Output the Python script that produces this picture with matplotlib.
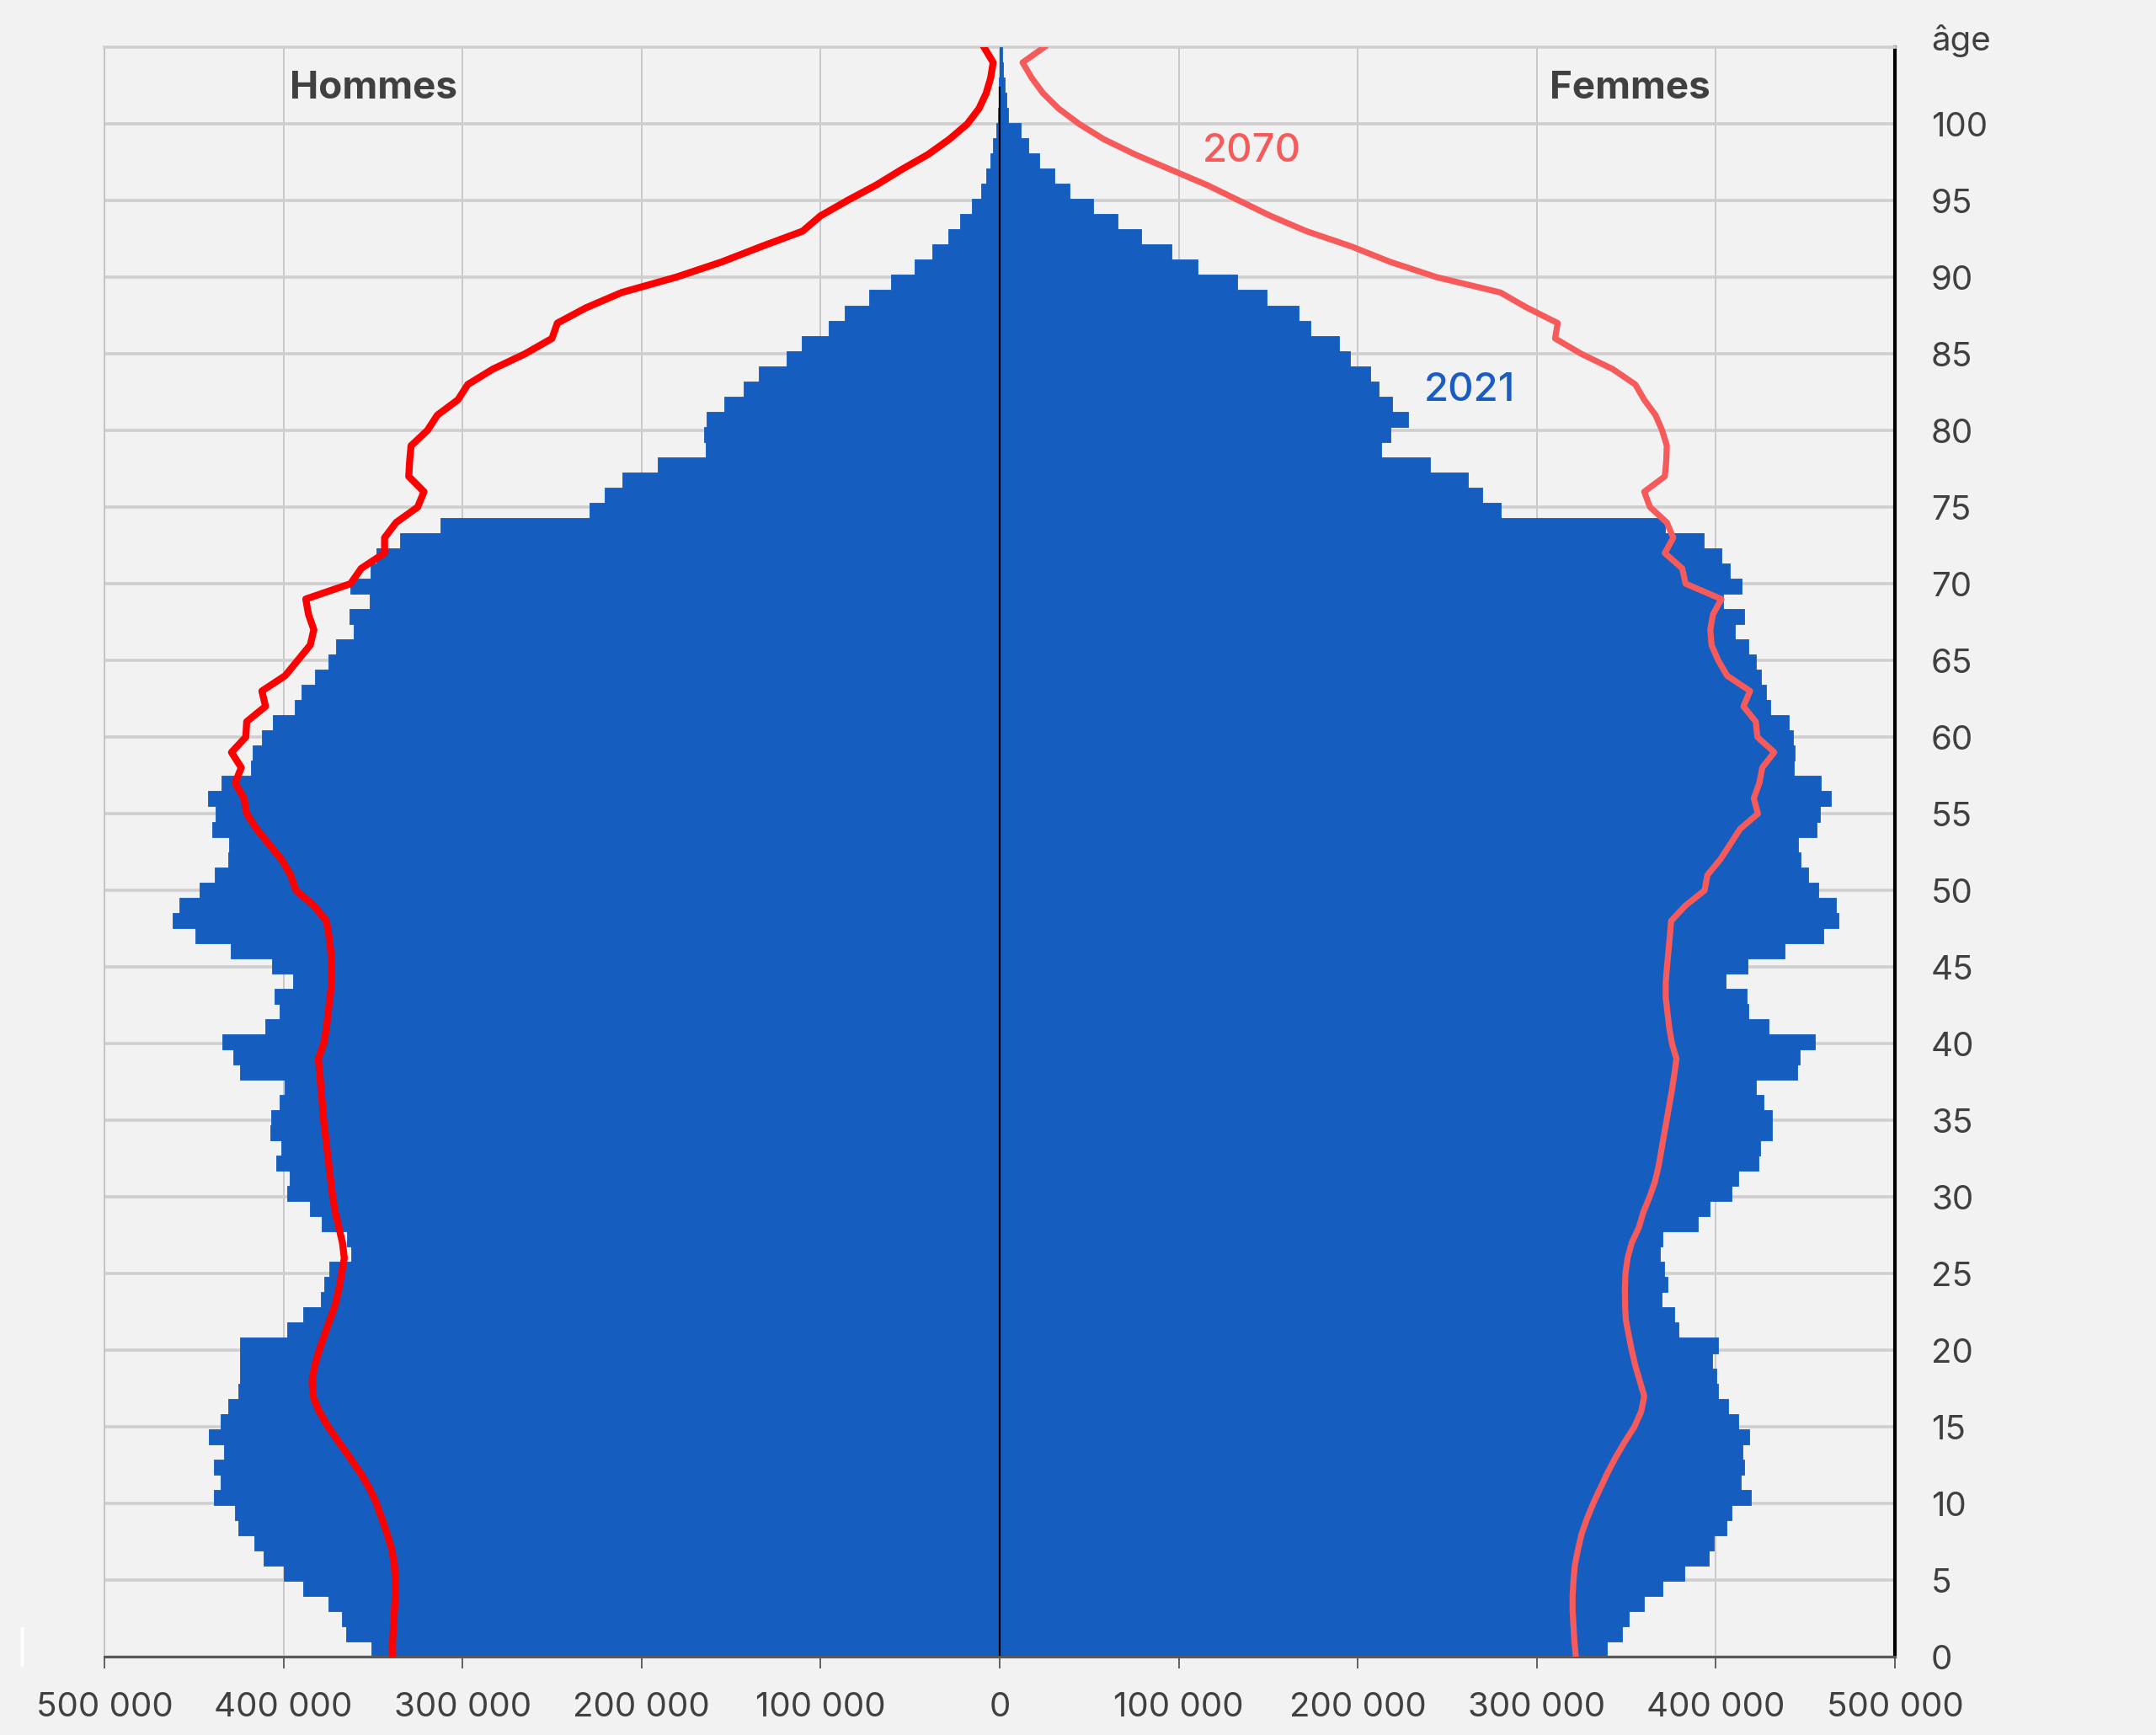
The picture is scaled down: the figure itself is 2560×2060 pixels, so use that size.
import numpy as np
import matplotlib.pyplot as plt
from matplotlib.ticker import FuncFormatter
from matplotlib.lines import Line2D

plt.rcParams['font.family'] = ['Inter', 'DejaVu Sans']

# === 2021 population by single year of age (thousands), ages 0..105 ===
ages = np.arange(0, 106)

hommes_2021 = [351, 365, 367.5, 375, 389, 400, 411, 416, 425, 427,
               439, 435, 439, 433, 441.5, 435, 431, 425, 424, 424,
               424, 398, 389, 379, 377, 374.5, 362, 364.5, 378.5, 385,
               398, 396.5, 404, 401, 407.5, 407, 402, 399.5, 424, 428,
               434, 410, 402, 405, 394.5, 406.5, 429.5, 449, 462, 458,
               447, 438.5, 431, 430.5, 439.7, 438, 442, 434.8, 418, 417,
               411.8, 406, 393.7, 389.8, 382.4, 375, 370.5, 360.8, 362.9, 352,
               362.4, 351.4, 348, 335, 312.5, 229, 220.5, 210.7, 190.9, 164.2,
               165.1, 163.8, 153.8, 142.8, 134.6, 119.1, 110.5, 95.4, 86.3, 73.1,
               60.6, 47.4, 37.6, 28.5, 21.9, 15.5, 10.5, 7.5, 5.2, 3.6,
               1.8, 0.9, 0.5, 0.3, 0.2, 0.1]

femmes_2021 = [339.2, 347.8, 351.3, 359.9, 370.4, 382.3, 396, 399, 405.8, 408.9,
               419.4, 414, 416, 414.9, 418.7, 412.4, 406.9, 401, 400.3, 397.8,
               401.4, 379, 376.8, 369.7, 372.9, 371.3, 368.8, 370, 389.8, 396.6,
               408.6, 412.5, 424, 424.8, 431.3, 431.3, 426.6, 422.4, 445.5, 447,
               455.2, 429.3, 418, 417, 405.5, 417.7, 438.2, 460, 468.5, 467,
               457.4, 451.7, 447.5, 445.9, 456.4, 458.3, 464.3, 458.8, 443.6, 444.2,
               443.1, 440.8, 430.6, 428.2, 425.4, 422.4, 418.2, 410.7, 416, 404,
               414.4, 407.8, 403.1, 393.4, 371.5, 280, 269.4, 261.4, 240.5, 213.3,
               218.4, 228, 219, 211.6, 207, 195.5, 189.4, 173.8, 166.8, 149.2,
               132.8, 110.4, 95.8, 79, 65.7, 52.1, 39.2, 30.4, 21.9, 15.8,
               11.6, 4.8, 4, 2.8, 2, 1.5]

# === 2070 projection (thousands), ages 0..105 ===
hommes_2070 = [339, 339, 338.5, 338, 337.5, 337.5, 338, 339.5, 342, 345,
               348, 352, 357, 363, 369, 375, 380, 383.5, 384, 382.5,
               380, 377, 374, 371, 369, 367.5, 366, 367, 369, 371,
               372.5, 373.5, 374.5, 375.5, 376.5, 377.5, 378.2, 379, 379.6, 380.5,
               377.5, 376, 375, 374, 373, 373, 373.5, 374.5, 376, 383,
               393, 396, 401, 408, 415, 420.5, 422, 427, 423.5, 429,
               421, 420.5, 410, 412, 399, 392, 385, 383, 386, 387.5,
               362.5, 356.5, 343.5, 343.5, 337, 325, 321.5, 330, 329.5, 328.7,
               319.6, 314, 302.5, 297, 283, 265, 250, 247, 231, 211,
               180.6, 155, 133, 110, 100, 85, 69, 55, 40, 28,
               18, 11.5, 7.5, 5, 3.6, 8.7]

femmes_2070 = [321.8, 321, 320.5, 320, 320, 320.5, 321.3, 323, 325, 328,
               331.5, 335.5, 339.5, 344, 349, 354.5, 358.3, 360, 357.5, 355,
               353, 351.3, 349.7, 349.3, 349.2, 349.5, 350.7, 353, 357, 359.5,
               363, 366, 368, 369.5, 371, 372.5, 374, 375.5, 376.8, 378,
               375.5, 374, 373, 372, 372, 372.7, 373.5, 374.3, 375, 383,
               393.7, 395.3, 402.4, 408, 413.5, 423.5, 421.2, 424.3, 425.9, 432.6,
               423.2, 422.3, 415.4, 419.1, 406.3, 401.3, 397.6, 396.9, 398.4, 403.1,
               383.1, 381.2, 371.5, 376.2, 372.6, 363.2, 360, 371.5, 372.3, 372.6,
               370, 366.3, 360, 355, 342.4, 324.8, 310.2, 311.7, 294.6, 279.6,
               244, 218, 196.5, 171.3, 151.2, 133.6, 116, 95.8, 75.7, 58.1,
               44.3, 32.9, 24.2, 17.9, 12.8, 24.9]

age_ticks = list(range(0, 101, 5))
pop_ticks = np.arange(-500000, 500001, 100000)

BG = '#F2F2F2'
BLUE = '#155EC0'
TXT = '#404040'

fig = plt.figure(figsize=(25.6, 20.6), dpi=100, facecolor=BG)

# base axis: grid, ticks, spines
ax = fig.add_axes([0.0484, 0.0451, 0.8305, 0.9277])
ax.set_facecolor(BG)
ax.set_xlim(-500000, 500000)
ax.set_ylim(0, 105)

# bars: 106 age categories stretched over the full height
axb = ax.twinx()
axb.set_ylim(-0.5, 105.5)
axb.barh(ages, -np.array(hommes_2021) * 1000, height=1.0, color=BLUE,
         edgecolor=BLUE, linewidth=0.6)
axb.barh(ages, np.array(femmes_2021) * 1000, height=1.0, color=BLUE,
         edgecolor=BLUE, linewidth=0.6)
axb.axis('off')

# lines and labels on age scale
axl = ax.twinx()
axl.set_ylim(0, 105)
axl.axis('off')

ax.set_xticks(pop_ticks)
ax.xaxis.set_major_formatter(FuncFormatter(lambda v, p: f"{abs(int(v)):,}".replace(',', ' ')))
ax.set_yticks(age_ticks)
ax.yaxis.tick_right()
ax.tick_params(axis='y', length=0, pad=31, labelsize=29, labelcolor=TXT)
ax.tick_params(axis='x', length=10, width=1.3, color='#555555', pad=20,
               labelsize=29, labelcolor=TXT)
ax.grid(axis='x', color='#BDBDBD', lw=1.1)
ax.grid(axis='y', color='#D0CECE', lw=2.6)
ax.set_axisbelow(True)
ax.spines['right'].set_color('black')
ax.spines['right'].set_linewidth(3)
ax.spines['left'].set_color('#BDBDBD')
ax.spines['left'].set_linewidth(1.1)
ax.spines['top'].set_color('#D0CECE')
ax.spines['top'].set_linewidth(2.6)
ax.spines['bottom'].set_color('#595959')
ax.spines['bottom'].set_linewidth(2)

axl.vlines(0, 0, 102.4, color='black', lw=1.6)
axl.axhline(0, color='#595959', lw=2.2, clip_on=False)
axl.plot(-np.array(hommes_2070) * 1000, ages, color='#FF0000', lw=6.0)
axl.plot(np.array(femmes_2070) * 1000, ages, color='#F65A5A', lw=5.2)

axl.text(-349500, 102.3, 'Hommes', ha='center', va='center', fontsize=33,
         fontweight='bold', color=TXT)
axl.text(352000, 102.3, 'Femmes', ha='center', va='center', fontsize=33,
         fontweight='bold', color=TXT)
axl.text(140600, 98.2, '2070', ha='center', va='center', fontsize=34,
         fontweight='medium', color='#F65A5A')
axl.text(262500, 82.6, '2021', ha='center', va='center', fontsize=34,
         fontweight='medium', color='#1A5CC0')
axl.annotate('âge', xy=(1, 105.4), xycoords=('axes fraction', 'data'),
             xytext=(31, 0), textcoords='offset points', ha='left', va='center',
             fontsize=29, color=TXT, annotation_clip=False)

fig.add_artist(Line2D([26 / 2560, 26 / 2560], [1 - 1977 / 2060, 1 - 1933 / 2060],
                      color='white', lw=2.5))

fig.savefig('out.png', dpi=100, facecolor=fig.get_facecolor())
